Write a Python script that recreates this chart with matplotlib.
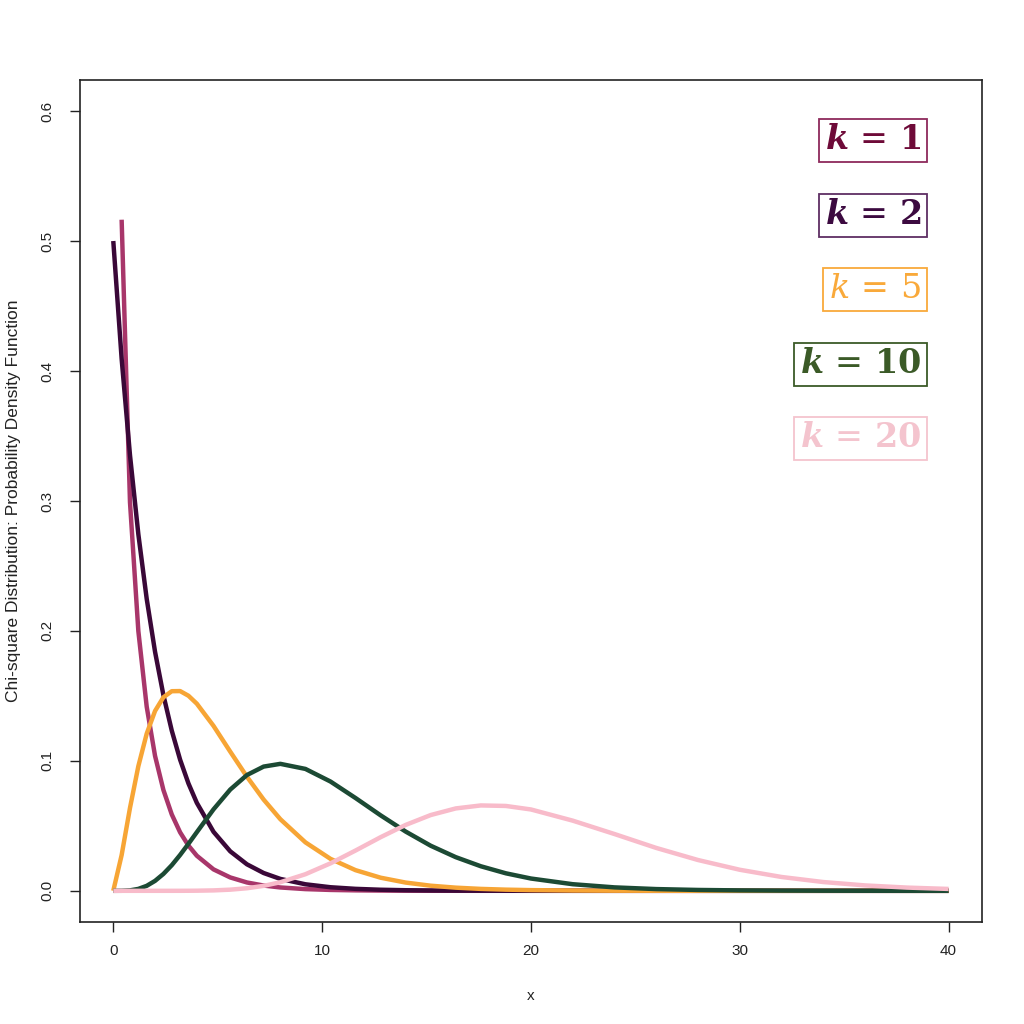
import numpy as np
import matplotlib
matplotlib.use("Agg")
import matplotlib.pyplot as plt

plt.rcParams['font.family'] = ['Liberation Sans', 'DejaVu Sans']
plt.rcParams['mathtext.fontset'] = 'dejavuserif'

x = [0, 0.4, 0.8, 1.2, 1.6, 2.0, 2.4, 2.8, 3.2, 3.6, 4.0, 4.8, 5.6, 6.4, 7.2, 8.0,
     9.2, 10.4, 11.6, 12.8, 14.0, 15.2, 16.4, 17.6, 18.8, 20, 22, 24, 26, 28, 30,
     32, 34, 36, 38, 40]

k1 = [np.nan, 0.5164, 0.2990, 0.1999, 0.1417, 0.1038, 0.0776, 0.0588, 0.0450, 0.0348,
      0.0270, 0.0165, 0.0103, 0.00643, 0.00406, 0.00258, 0.00132, 0.00068, 0.000355,
      0.000185, 0.000097, 0.00005, 0.00003, 0.000015, 0.00001, 0.000005, 0, 0, 0, 0,
      0, 0, 0, 0, 0, 0]
k2 = [0.5, 0.4094, 0.3352, 0.2744, 0.2247, 0.1839, 0.1506, 0.1233, 0.1009, 0.0826,
      0.0677, 0.0454, 0.0304, 0.0204, 0.0137, 0.00916, 0.00503, 0.00276, 0.00152,
      0.00083, 0.00046, 0.00025, 0.00014, 0.000075, 0.00004, 0.000023, 0.00001, 0,
      0, 0, 0, 0, 0, 0, 0, 0]
k5 = [0, 0.0275, 0.0638, 0.0959, 0.1209, 0.1384, 0.1489, 0.1536, 0.1537, 0.1501,
      0.1440, 0.1269, 0.1071, 0.0878, 0.0702, 0.0551, 0.0373, 0.0246, 0.0159, 0.0101,
      0.00635, 0.00394, 0.00243, 0.00148, 0.00090, 0.00054, 0.00023, 0.000096,
      0.00004, 0.000016, 0.000006, 0, 0, 0, 0, 0]
k10 = [0, 0.000027, 0.000357, 0.00148, 0.00383, 0.00766, 0.0130, 0.0197, 0.0276,
       0.0362, 0.0451, 0.0627, 0.0779, 0.0891, 0.0956, 0.0977, 0.0938, 0.0841, 0.0714,
       0.0581, 0.0456, 0.0347, 0.0259, 0.0189, 0.01347, 0.00946, 0.00509, 0.00265,
       0.00134, 0.000666, 0.000323, 0.000154, 0.000072, 0.000033, 0.000015, 0.000007]
k20 = [0, 0, 0, 0, 0, 0.0000005, 0.000002, 0.000006, 0.000016, 0.00004, 0.000095,
       0.00033, 0.000886, 0.00198, 0.00382, 0.00661, 0.01277, 0.02114, 0.0310, 0.04125,
       0.0507, 0.0583, 0.0634, 0.0657, 0.0653, 0.0626, 0.0540, 0.0437, 0.0330, 0.0237,
       0.0162, 0.01065, 0.00676, 0.00416, 0.00249, 0.00145]

series = [k1, k2, k5, k10, k20]
line_colors = ['#A8366A', '#3A0838', '#F7A535', '#1C4A34', '#F8BBCA']
label_texts = [r'$\mathbfit{k}\,=\,\mathbf{1}$', r'$\mathbfit{k}\,=\,\mathbf{2}$',
               r'$\mathit{k}\,=\,5$', r'$\mathbfit{k}\,=\,\mathbf{10}$',
               r'$\mathbfit{k}\,=\,\mathbf{20}$']
label_colors = ['#6E0A38', '#3C0A40', '#F9A93A', '#3B5A27', '#F4C4CE']
box_colors = ['#8E2A5C', '#5E2E63', '#F9A93A', '#3B5A27', '#F4C4CE']
label_y = [0.577, 0.520, 0.463, 0.405, 0.348]

xticks = [0, 10, 20, 30, 40]
yticks = [0.0, 0.1, 0.2, 0.3, 0.4, 0.5, 0.6]

fig = plt.figure(figsize=(10.24, 10.24), dpi=100)
ax = fig.add_axes([0.078, 0.0996, 0.881, 0.8224])

for ys, c in zip(series, line_colors):
    ax.plot(x, ys, color=c, lw=3.2, solid_joinstyle='round', solid_capstyle='butt')

ax.set_xlim(-1.6, 41.6)
ax.set_ylim(-0.024, 0.624)
ax.set_xticks(xticks)
ax.set_xticklabels([str(t) for t in xticks])
ax.set_yticks(yticks)
ax.set_yticklabels([f'{t:.1f}' for t in yticks], rotation=90, va='center')
ax.tick_params(axis='both', direction='out', length=7, width=1, labelsize=11,
               colors='#222222')
ax.tick_params(axis='x', pad=9)
ax.tick_params(axis='y', pad=11)
for s in ax.spines.values():
    s.set_linewidth(1.2)
    s.set_color('#222222')

ax.set_xlabel('x', fontsize=11, color='#222222', labelpad=22)
ax.set_ylabel('Chi-square Distribution: Probability Density Function', fontsize=12.5,
              color='#222222', labelpad=14)

for t, c, bc, yy in zip(label_texts, label_colors, box_colors, label_y):
    ax.text(38.7, yy, t, color=c, fontsize=24, ha='right', va='center',
            bbox=dict(boxstyle='square,pad=0.18', fc='white', ec=bc, lw=1.3))

fig.savefig('out.png', dpi=100, facecolor='white')
